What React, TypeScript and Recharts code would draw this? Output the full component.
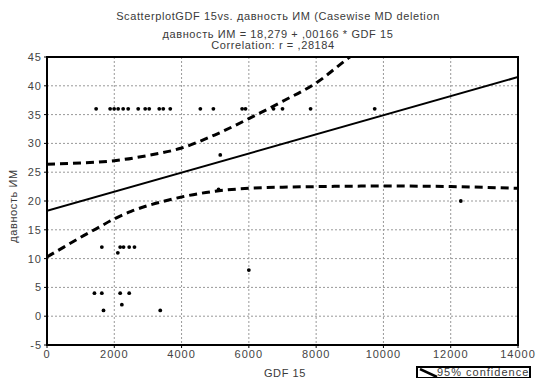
import React from 'react';
import { ComposedChart, Line, Scatter, XAxis, YAxis, CartesianGrid, ReferenceArea } from 'recharts';

const xTicks = [0, 2000, 4000, 6000, 8000, 10000, 12000, 14000];
const yTicks = [-5, 0, 5, 10, 15, 20, 25, 30, 35, 40, 45];

// observations (GDF 15, давность ИМ)
const gdf = [
  1460, 1877, 1996, 2115, 2264, 2413, 2711, 2919, 3038, 3336, 3455, 3664, 4558, 4945, 5800, 5900, 6732, 7000, 7834, 9740,
  1630, 2175, 2275, 2443, 2600, 2105,
  1410, 1630, 2175, 2443, 2225, 1680, 3366,
  5150, 5100, 12300, 6000,
];
const days = [
  36, 36, 36, 36, 36, 36, 36, 36, 36, 36, 36, 36, 36, 36, 36, 36, 36, 36, 36, 36,
  12, 12, 12, 12, 12, 11,
  4, 4, 4, 4, 2, 1, 1,
  28, 22, 20, 8,
];

// regression line ends
const fitX = [0, 14000];
const fitY = [18.279, 41.52];

// 95% confidence bands
const bandX = [0, 1000, 2000, 3000, 4000, 5000, 6000, 7000, 8000, 9000, 10000];
const upperY = [26.4, 26.6, 27.0, 27.9, 29.2, 31.5, 34.3, 37.3, 40.5, 45.0, 49.0];
const lowX = [0, 500, 1000, 1500, 2000, 2500, 3000, 3500, 4000, 5000, 6000, 7000, 8000, 10000, 12000, 14000];
const lowerY = [10.3, 12, 13.7, 15.3, 16.9, 18.2, 19.2, 20.0, 20.7, 21.7, 22.2, 22.4, 22.5, 22.6, 22.5, 22.2];

const points = gdf.map((x, i) => ({ x, y: days[i] }));
const fit = fitX.map((x, i) => ({ x, y: fitY[i] }));
const upper = bandX.map((x, i) => ({ x, y: upperY[i] }));
const lower = lowX.map((x, i) => ({ x, y: lowerY[i] }));

const font = '"Liberation Sans", Arial, sans-serif';
const txt: React.CSSProperties = {
  position: 'absolute',
  fontFamily: font,
  fontSize: 11,
  color: '#3a3a3a',
  letterSpacing: 0.6,
  whiteSpace: 'nowrap',
  lineHeight: '12px',
};

const tickStyle = { fontFamily: font, fontSize: 11, fill: '#444', letterSpacing: 1 };

const App: React.FC = () => {
  return (
    <div style={{ position: 'absolute', left: 0, top: 0, width: 536, height: 378, background: 'white', overflow: 'hidden' }}>
      <div style={{ ...txt, top: 10, left: 0, width: 556, textAlign: 'center' }}>
        ScatterplotGDF 15vs. давность ИМ (Casewise MD deletion
      </div>
      <div style={{ ...txt, top: 28, left: 0, width: 556, textAlign: 'center' }}>
        давность ИМ = 18,279 + ,00166 * GDF 15
      </div>
      <div style={{ ...txt, top: 39, left: 0, width: 546, textAlign: 'center' }}>
        Correlation: r = ,28184
      </div>
      <ComposedChart width={536} height={378} margin={{ top: 57, right: 18, bottom: 0, left: 0 }}>
        <CartesianGrid stroke="#999" strokeDasharray="2 2" horizontalValues={yTicks} verticalValues={xTicks} />
        <XAxis
          dataKey="x"
          type="number"
          domain={[0, 14000]}
          ticks={xTicks}
          height={33}
          interval={0}
          axisLine={{ stroke: '#000', strokeWidth: 2 }}
          tickLine={{ stroke: '#000' }}
          tickSize={3}
          tick={tickStyle}
          allowDataOverflow
        />
        <YAxis
          dataKey="y"
          type="number"
          domain={[-5, 45]}
          ticks={yTicks}
          width={47}
          interval={0}
          axisLine={{ stroke: '#000', strokeWidth: 2 }}
          tickLine={{ stroke: '#000' }}
          tickSize={3}
          tick={tickStyle}
          allowDataOverflow
        />
        <ReferenceArea x1={0} x2={14000} y1={-5} y2={45} fill="none" stroke="#000" strokeWidth={2} />
        <Line data={upper} dataKey="y" type="monotone" stroke="#000" strokeWidth={3} strokeDasharray="8 5" dot={false} isAnimationActive={false} />
        <Line data={lower} dataKey="y" type="monotone" stroke="#000" strokeWidth={3} strokeDasharray="8 5" dot={false} isAnimationActive={false} />
        <Line data={fit} dataKey="y" type="linear" stroke="#000" strokeWidth={2} dot={false} isAnimationActive={false} />
        <Scatter data={points} fill="#000" shape={(p: any) => <circle cx={p.cx} cy={p.cy} r={1.9} fill="#000" />} isAnimationActive={false} />
      </ComposedChart>
      <div style={{ ...txt, top: 206, left: 13, transform: 'translate(-50%, -50%) rotate(-90deg)' }}>давность ИМ</div>
      <div style={{ ...txt, top: 367, left: 285, transform: 'translateX(-50%)' }}>GDF 15</div>
      <div style={{ position: 'absolute', left: 416, top: 366, width: 111, height: 9, border: '2px solid #000', background: 'white' }}>
        <svg width={20} height={10} style={{ position: 'absolute', left: 1, top: 0 }}>
          <line x1={1} y1={1} x2={18} y2={9} stroke="#000" strokeWidth={2.5} />
        </svg>
        <div style={{ ...txt, top: -2, left: 19, letterSpacing: 1 }}>95% confidence</div>
      </div>
    </div>
  );
};

export default App;
